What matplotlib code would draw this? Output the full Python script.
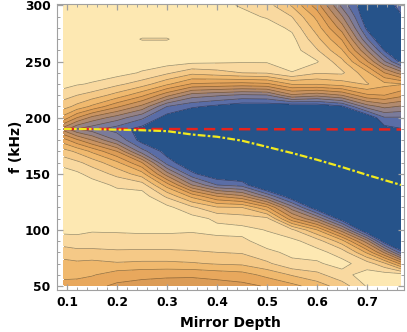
import matplotlib
matplotlib.use('Agg')
import matplotlib.pyplot as plt
import numpy as np
from matplotlib.ticker import MultipleLocator

plt.rcParams['font.family'] = ['DejaVu Sans']

# mirror depth columns and frequency rows of the map
depth = [0.094, 0.12, 0.15, 0.2, 0.25, 0.3, 0.35, 0.4, 0.45, 0.5, 0.55, 0.6, 0.65, 0.7, 0.735, 0.768]
freq = [300, 290, 280, 270, 260, 250, 240, 230, 220, 210, 200, 190, 180,
        170, 160, 150, 140, 130, 120, 110, 100, 90, 80, 70, 60, 50]

# contour band index at each node, 0 = dark blue ... 11 = pale yellow
level = [
    [11, 11, 11, 11, 11, 11, 11, 10.8, 10.4, 9.9, 8.4, 6.0, 2.2, -0.6, -0.3, 1.0],      # 300
    [11, 11, 11, 11, 11, 11, 11, 11, 10.8, 10.4, 9.5, 7.2, 3.6, -0.5, -1, 0.3],         # 290
    [11, 11, 11, 11, 11, 11, 11, 11, 11, 11, 10.3, 8.0, 5.0, 0.2, -1, -1],              # 280
    [11, 11, 11, 11, 10.45, 10.45, 11, 11, 11, 11, 10.8, 8.8, 6.4, 1.6, -1, -1],        # 270
    [11, 11, 11, 11, 11, 11, 11, 11, 11, 11, 11, 9.6, 7.6, 3.5, 0.4, -1],               # 260
    [11, 11, 11, 11, 11, 11, 10.8, 10.7, 10.6, 10.6, 11, 10.6, 8.8, 5.6, 2.6, 0.1],     # 250
    [11, 11, 11, 10.9, 10.4, 9.7, 8.8, 9.1, 9.5, 9.6, 10.45, 9.6, 9.7, 7.8, 5.5, 4.0],  # 240
    [10.9, 10.6, 10.4, 9.75, 9.0, 7.7, 6.4, 6.25, 6.1, 6.3, 7.6, 7.6, 8.0, 8.6, 7.8, 7.6],  # 230
    [9.9, 9.5, 9.1, 8.1, 6.75, 4.8, 3.0, 2.65, 2.3, 2.4, 4.3, 3.8, 4.5, 6.3, 6.5, 5.8],  # 220
    [8.9, 8.2, 7.3, 5.7, 4.2, 1.5, 0.7, 0.2, -0.3, -0.3, -0.5, -0.4, 0.3, 3.0, 3.8, 3.4],  # 210
    [7.1, 5.5, 4.2, 3.0, 1.7, 0, -1, -2, -2, -2.5, -2.5, -2.5, -2.5, -0.6, 1.4, 1.4],   # 200
    [4.0, 2.5, 1.9, 1.0, 0.1, -1, -2, -2, -2, -2.5, -2.5, -2.5, -2.5, -2.5, 0.1, 0.45], # 190
    [6.9, 5.7, 4.5, 2.4, 0.0, -1, -2, -2, -2, -2.5, -2.5, -2.5, -2.5, -2.5, -2.5, -2.5],  # 180
    [8.9, 8.3, 7.3, 5.5, 1.9, 0, -1.5, -2, -2, -2.5, -2.5, -2.5, -2.5, -2.5, -2.5, -2.5],  # 170
    [10.1, 9.7, 9.1, 7.7, 5.5, 1.0, -0.5, -2, -2, -2.5, -2.5, -2.5, -2.5, -2.5, -2.5, -2.5],  # 160
    [11, 10.7, 10.1, 9.2, 7.9, 3.9, 0.7, -0.5, -0.8, -2.5, -2.5, -2.5, -2.5, -2.5, -2.5, -2.5],  # 150
    [11, 11, 11, 10.3, 10.0, 7.0, 3.5, 1.5, 1.1, -1.5, -2.5, -2.5, -2.5, -2.5, -2.5, -2.5],  # 140
    [11, 11, 11, 11, 11, 9.3, 7.2, 5.5, 4.7, 2.3, -0.5, -2.5, -2.5, -2.5, -2.5, -2.5],  # 130
    [11, 11, 11, 11, 11, 10.8, 9.7, 8.6, 8.5, 6.7, 2.9, -0.5, -2.5, -2.5, -2.5, -2.5],  # 120
    [11, 11, 11, 11, 11, 11, 10.9, 10.3, 10.0, 9.8, 5.8, 3.4, -0.3, -2.5, -2.5, -2.5],  # 110
    [10.8, 10.8, 10.6, 10.6, 10.7, 10.7, 10.65, 10.8, 10.8, 10.45, 9.7, 7.5, 3.9, -1.0, -2.5, -2.5],  # 100
    [10.0, 10.1, 10.1, 10.2, 10.1, 10.1, 10.0, 10.2, 10.3, 10.9, 10.75, 10.0, 7.9, 3.9, -0.3, -2],  # 90
    [9.0, 9.2, 9.2, 9.3, 9.3, 9.3, 9.4, 9.5, 9.6, 10.3, 10.7, 10.8, 10.1, 7.3, 4.3, 0.9],  # 80
    [8.2, 8.3, 8.2, 8.4, 8.3, 8.3, 8.4, 8.6, 8.7, 9.3, 10.3, 10.4, 10.8, 10.0, 8.7, 6.2],  # 70
    [7.8, 7.8, 7.6, 7.0, 6.8, 6.7, 6.7, 6.9, 7.1, 7.8, 8.6, 9.2, 10.2, 10.9, 11, 11],   # 60
    [7.1, 7.0, 6.8, 6.3, 6.1, 6.0, 5.9, 6.0, 6.2, 6.6, 7.2, 8.0, 9.0, 10.6, 11, 11],    # 50
]

# the two guide lines
red_x = [0.094, 0.768]
red_f = [190, 189.5]
yellow_x = [0.094, 0.15, 0.2, 0.25, 0.3, 0.35, 0.4, 0.45, 0.5, 0.55, 0.6, 0.65, 0.7, 0.768]
yellow_f = [190, 189.8, 189.3, 188.8, 188, 185, 183, 179.5, 174, 168.5, 162.5, 156, 149, 140]

band_colors = ['#26538a', '#5a6da6', '#7b7b9a', '#958285', '#b18a6e', '#c99361',
               '#dc9c56', '#e8a85d', '#f0b96e', '#f5c987', '#f9d9a0', '#fde8b2']
bounds = [-10] + [k + 0.5 for k in range(11)] + [20]

fig = plt.figure(figsize=(4.07, 3.32), dpi=100)
ax = fig.add_axes([0.1393, 0.1265, 0.8533, 0.86])

z = np.array(level)[::-1]
f = np.array(freq)[::-1]
ax.contourf(depth, f, z, levels=bounds, colors=band_colors)
ax.contour(depth, f, z, levels=bounds[1:-1], colors='k', linewidths=0.5, alpha=0.4)

ax.plot(red_x, red_f, color='#e8231c', lw=1.8, dashes=(4.5, 2.5))
ax.plot(yellow_x, yellow_f, color='#f2ea1e', lw=1.6, dashes=(3.5, 1.0, 1.2, 1.0))

ax.set_xlim(0.0794, 0.774)
ax.set_ylim(46.4, 300.9)

ax.xaxis.set_major_locator(MultipleLocator(0.1))
ax.xaxis.set_minor_locator(MultipleLocator(0.02))
ax.yaxis.set_major_locator(MultipleLocator(50))
ax.yaxis.set_minor_locator(MultipleLocator(10))
ax.tick_params(which='both', direction='in', top=True, right=True, color='#a0a0a0')
ax.tick_params(which='major', length=4, width=0.9, labelsize=8.8, pad=4.5)
ax.tick_params(which='minor', length=2, width=0.7)
for lab in ax.get_xticklabels() + ax.get_yticklabels():
    lab.set_fontweight('bold')
for s in ax.spines.values():
    s.set_color('#a0a0a0')
    s.set_linewidth(0.8)

ax.set_xlabel('Mirror Depth', fontsize=10, fontweight='bold', labelpad=5)
ax.set_ylabel('f (kHz)', fontsize=10, fontweight='bold', labelpad=1)

fig.savefig('out.png', dpi=100)
